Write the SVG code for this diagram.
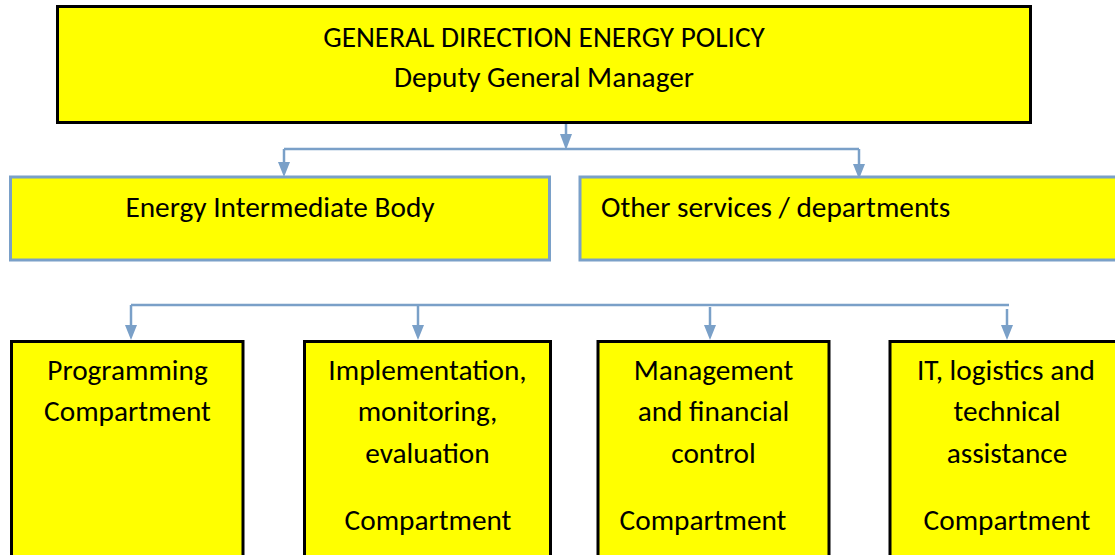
<svg xmlns="http://www.w3.org/2000/svg" width="1115" height="555" viewBox="0 0 1115 555">
<style>
.yb{fill:#ffff00;stroke:#000;stroke-width:3}
.bb{fill:#ffff00;stroke:#7aa0c8;stroke-width:3}
.t{font-family:Calibri,Carlito,Lato,"Liberation Sans",sans-serif;font-size:29.3px;fill:#000}
.c{text-anchor:middle}
.cn{fill:none;stroke:#7aa0c8;stroke-width:2.5}
.ah{fill:#7aa0c8}
</style>
<rect width="1115" height="555" fill="#fff"/>
<g id="connectors">
<path class="cn" d="M566,107 V134"/>
<path class="ah" d="M560,134 L572,134 L566,150 Z"/>
<path class="cn" d="M284,149 H859"/>
<path class="cn" d="M284,149 V162"/>
<path class="ah" d="M278,162 L290,162 L284,177 Z"/>
<path class="cn" d="M859,149 V164"/>
<path class="ah" d="M853,164 L865,164 L859,179 Z"/>
<path class="cn" d="M131,305 H1009"/>
<path class="cn" d="M131,305 V325"/>
<path class="ah" d="M125,325 L137,325 L131,340 Z"/>
<path class="cn" d="M418,305 V325"/>
<path class="ah" d="M412,325 L424,325 L418,340 Z"/>
<path class="cn" d="M710,307 V325"/>
<path class="ah" d="M704,325 L716,325 L710,340 Z"/>
<path class="cn" d="M1007,309 V325"/>
<path class="ah" d="M1001,325 L1013,325 L1007,340 Z"/>
</g>
<g id="top">
<rect class="yb" x="57.5" y="6.5" width="973" height="116"/>
<text class="t c" x="544" y="47">GENERAL DIRECTION ENERGY POLICY</text>
<text class="t c" x="544" y="87">Deputy General Manager</text>
</g>
<g id="eib">
<rect class="bb" x="10.5" y="177" width="539" height="83"/>
<text class="t c" x="280" y="217">Energy Intermediate Body</text>
</g>
<g id="other">
<rect class="bb" x="580" y="177" width="545" height="83"/>
<text class="t" x="601" y="217">Other services / departments</text>
</g>
<g id="prog">
<rect class="yb" x="11.5" y="341.5" width="231.5" height="220"/>
<text class="t c" x="127.5" y="380">Programming</text>
<text class="t c" x="127.5" y="421">Compartment</text>
</g>
<g id="impl">
<rect class="yb" x="304.5" y="341.5" width="246" height="220"/>
<text class="t c" x="427.5" y="380">Implementation,</text>
<text class="t c" x="427.5" y="421">monitoring,</text>
<text class="t c" x="427.5" y="463">evaluation</text>
<text class="t c" x="428" y="530">Compartment</text>
</g>
<g id="mgmt">
<rect class="yb" x="598" y="341.5" width="231" height="220"/>
<text class="t c" x="713.5" y="380">Management</text>
<text class="t c" x="713.5" y="421">and financial</text>
<text class="t c" x="713.5" y="463">control</text>
<text class="t c" x="703" y="530">Compartment</text>
</g>
<g id="it">
<rect class="yb" x="890" y="341.5" width="240" height="220"/>
<text class="t c" x="1006" y="380">IT, logistics and</text>
<text class="t c" x="1007" y="421">technical</text>
<text class="t c" x="1007" y="463">assistance</text>
<text class="t c" x="1007" y="530">Compartment</text>
</g>
</svg>
